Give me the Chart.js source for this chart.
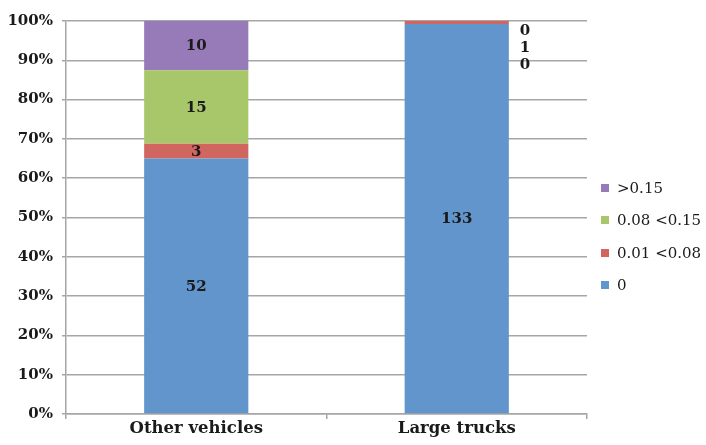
<!DOCTYPE html>
<html>
<head>
<meta charset="utf-8">
<script src="https://cdn.jsdelivr.net/npm/chart.js@4"></script>
<style>
html,body{margin:0;padding:0;background:#fff;}
#wrap{width:706px;height:445px;position:relative;}
</style>
</head>
<body>
<div id="wrap"><canvas id="c" width="706" height="445"></canvas></div>
<script>
const categories = ["Other vehicles", "Large trucks"];
const seriesNames = ["0", "0.01 <0.08", "0.08 <0.15", ">0.15"];
const countsZero = [52, 133];
const countsLow = [3, 1];
const countsMid = [15, 0];
const countsHigh = [10, 0];
const yTicks = [0, 10, 20, 30, 40, 50, 60, 70, 80, 90, 100];
const colors = ["#6195CB", "#D1655F", "#A8C66A", "#977BB9"];

const allCounts = [countsZero, countsLow, countsMid, countsHigh];
const totals = categories.map((_, i) => allCounts.reduce((s, a) => s + a[i], 0));
const datasets = allCounts.map((arr, k) => ({
  label: seriesNames[k],
  data: arr.map((v, i) => v / totals[i] * 100),
  counts: arr,
  backgroundColor: colors[k],
  borderWidth: 0,
  barPercentage: 0.4,
  categoryPercentage: 1.0
}));

const FONT = "'DejaVu Serif', serif";

const labelPlugin = {
  id: 'labels',
  afterDatasetsDraw(chart) {
    const ctx = chart.ctx;
    ctx.save();
    ctx.fillStyle = '#1a1a1a';
    ctx.font = 'bold 15px ' + FONT;
    ctx.textAlign = 'center';
    ctx.textBaseline = 'middle';
    categories.forEach((cat, i) => {
      const big = chart.data.datasets.some(d => d.counts[i] === 0);
      if (!big) {
        chart.data.datasets.forEach((ds, k) => {
          const el = chart.getDatasetMeta(k).data[i];
          ctx.fillText(String(ds.counts[i]), el.x, (el.y + el.base) / 2 + 1);
        });
      } else {
        const el0 = chart.getDatasetMeta(0).data[i];
        ctx.fillText(String(chart.data.datasets[0].counts[i]), el0.x, (el0.y + el0.base) / 2 + 1);
        const order = [3, 1, 2];
        const topEl = chart.getDatasetMeta(3).data[i];
        const xr = topEl.x + topEl.width / 2 + 16;
        const yTop = chart.scales.y.getPixelForValue(100);
        order.forEach((k, j) => {
          ctx.fillText(String(chart.data.datasets[k].counts[i]), xr, yTop + 10 + j * 17);
        });
      }
    });
    ctx.font = '15px ' + FONT;
    ctx.textAlign = 'left';
    const ly = [188, 220, 253, 285];
    [3, 2, 1, 0].forEach((k, j) => {
      ctx.fillStyle = colors[k];
      ctx.fillRect(601, ly[j] - 4, 8, 8);
      ctx.fillStyle = '#1a1a1a';
      ctx.fillText(seriesNames[k], 617, ly[j] + 1);
    });
    ctx.restore();
  }
};

new Chart(document.getElementById('c'), {
  type: 'bar',
  data: { labels: categories, datasets },
  options: {
    responsive: false,
    animation: false,
    layout: { padding: { top: 21, right: 119, left: 0, bottom: 0 } },
    plugins: { legend: { display: false }, tooltip: { enabled: false } },
    scales: {
      x: {
        stacked: true,
        grid: { drawOnChartArea: false, drawTicks: true, tickLength: 5, color: '#A6A6A6', lineWidth: 1.5 },
        border: { color: '#A6A6A6', width: 1.5 },
        ticks: { color: '#1a1a1a', font: { family: FONT, size: 16.5, weight: 'bold' }, padding: 0 },
        afterFit(s) { s.height = 31; }
      },
      y: {
        stacked: true,
        min: 0, max: 100,
        afterBuildTicks(s) { s.ticks = yTicks.map(v => ({ value: v })); },
        grid: { color: '#A6A6A6', lineWidth: 1.5, tickLength: 4 },
        border: { color: '#A6A6A6', width: 1.5 },
        ticks: { color: '#1a1a1a', font: { family: FONT, size: 15, weight: 'bold' }, padding: 9, callback: v => v + '%' },
        afterFit(s) { s.width = 66; }
      }
    }
  },
  plugins: [labelPlugin]
});
</script>
</body>
</html>
